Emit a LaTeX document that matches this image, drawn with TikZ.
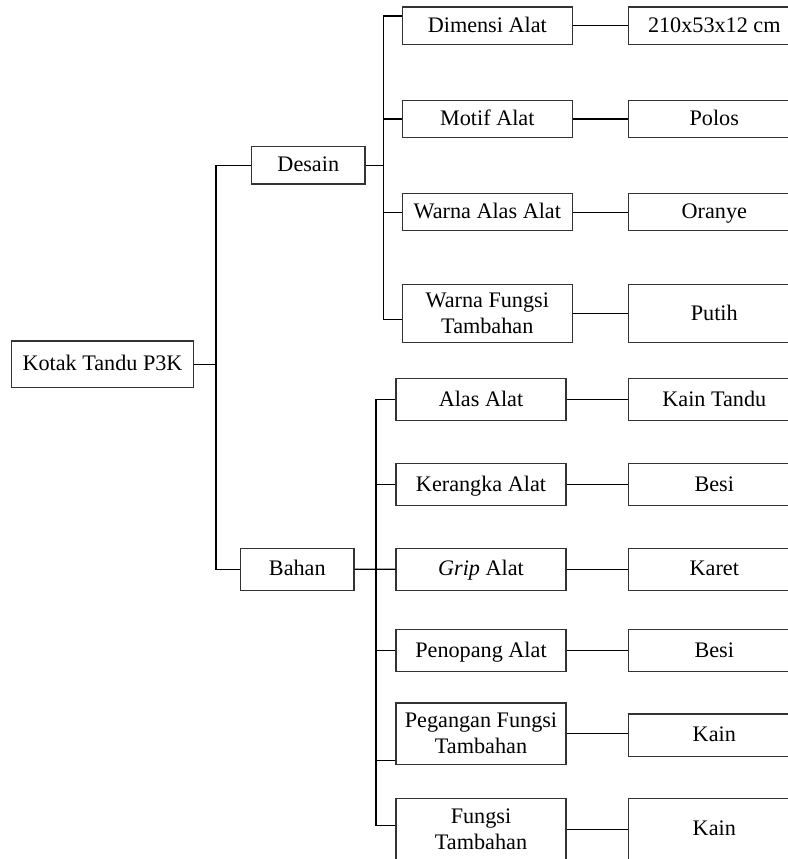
\documentclass[tikz,border=0pt]{standalone}
\usepackage{fontspec}
\setmainfont{Liberation Serif}
\usepackage{tikz}
\usetikzlibrary{positioning}

\begin{document}
\begin{tikzpicture}[
        x=0.5pt, y=-0.5pt,
        every node/.style={font=\fontsize{11.1}{13}\selectfont},
        box/.style={draw=black!80, line width=0.6pt, inner sep=0pt, align=center},
        sline/.style={text height=0.86em, text depth=0.2em},
        rootbox/.style={box, sline, minimum width=90.8pt, minimum height=23.35pt},
        catbox/.style={box, sline, minimum width=56.65pt},
        subbox/.style={box, minimum width=85pt},
        valbox/.style={box, minimum width=86pt},
        link/.style={line width=0.6pt}
    ]
    \useasboundingbox (0,0) rectangle (788,859);
    \clip (0,0) rectangle (788,859);

    % Root
    \node[rootbox] (root) at (102.5,364.3) {Kotak Tandu P3K};

    % Categories
    \node[catbox, minimum height=18.65pt] (desain) at (308.3,165.3) {Desain};
    \node[catbox, minimum height=21pt] (bahan) at (297.3,569.3) {Bahan};

    % Desain items
    \node[subbox, sline, minimum height=18.65pt] (dimensi) at (487.3,25.7) {Dimensi Alat};
    \node[subbox, sline, minimum height=18.65pt] (motif) at (487.3,119) {Motif Alat};
    \node[subbox, sline, minimum height=18.65pt] (warnaalas) at (487.3,212.2) {Warna Alas Alat};
    \node[subbox, minimum height=29.2pt] (warnafungsi) at (487.3,313.5) {Warna Fungsi\\Tambahan};

    % Bahan items
    \node[subbox, sline, minimum height=21pt] (alas) at (481,399.8) {Alas Alat};
    \node[subbox, sline, minimum height=21pt] (kerangka) at (481,484.5) {Kerangka Alat};
    \node[subbox, sline, minimum height=21pt] (grip) at (481,569.2) {\textit{Grip} Alat};
    \node[subbox, sline, minimum height=21pt] (penopang) at (481,650.8) {Penopang Alat};
    \node[subbox, minimum height=30.65pt] (pegangan) at (481,733.7) {Pegangan Fungsi\\Tambahan};
    \node[subbox, minimum height=30.65pt] (fungsi) at (481,829.3) {Fungsi\\Tambahan};

    % Values
    \node[valbox, sline, minimum height=18.65pt] (vdimensi) at (714.3,25.7) {210x53x12 cm};
    \node[valbox, sline, minimum height=18.65pt] (vmotif) at (714.3,119) {Polos};
    \node[valbox, sline, minimum height=18.65pt] (vwarnaalas) at (714.3,212.2) {Oranye};
    \node[valbox, sline, minimum height=29.2pt] (vwarnafungsi) at (714.3,313.5) {Putih};
    \node[valbox, sline, minimum height=21pt] (valas) at (714.3,399.8) {Kain Tandu};
    \node[valbox, sline, minimum height=21pt] (vkerangka) at (714.3,484.5) {Besi};
    \node[valbox, sline, minimum height=21pt] (vgrip) at (714.3,569.2) {Karet};
    \node[valbox, sline, minimum height=21pt] (vpenopang) at (714.3,650.8) {Besi};
    \node[valbox, sline, minimum height=21.35pt] (vpegangan) at (714.3,735.3) {Kain};
    \node[valbox, sline, minimum height=30.65pt] (vfungsi) at (714.3,829.3) {Kain};

    % Bus lines
    \coordinate (trunk) at (216,0);
    \coordinate (busa) at (383.3,0);
    \coordinate (busb) at (376,0);
    \coordinate (dimin) at ([yshift=4.85pt]dimensi.west);
    \coordinate (wfin) at ([yshift=-2.9pt]warnafungsi.west);
    \coordinate (pegin) at ([yshift=-13.5pt]pegangan.west);
    \coordinate (fgin) at ([yshift=1.8pt]fungsi.west);

    % Root to categories
    \draw[link] (root.east) -- (root.east -| trunk);
    \draw[link] (desain.west) -| (trunk |- bahan.west) -- (bahan.west);

    % Desain branches
    \draw[link] (desain.east) -- (desain.east -| busa);
    \draw[link] (dimin) -| (busa |- wfin) -- (wfin);
    \foreach \n in {motif, warnaalas}
        \draw[link] (\n.west) -- (\n.west -| busa);

    % Bahan branches
    \draw[link] (bahan.east) -- (grip.west);
    \draw[link] (alas.west) -| (busb |- fgin) -- (fgin);
    \foreach \n in {kerangka, penopang}
        \draw[link] (\n.west) -- (\n.west -| busb);
    \draw[link] (pegin) -- (pegin -| busb);

    % Items to values
    \foreach \n in {dimensi, motif, warnaalas, warnafungsi, alas, kerangka, grip, penopang, pegangan, fungsi}
        \draw[link] (\n.east) -- (\n.east -| v\n.west);

\end{tikzpicture}
\end{document}
